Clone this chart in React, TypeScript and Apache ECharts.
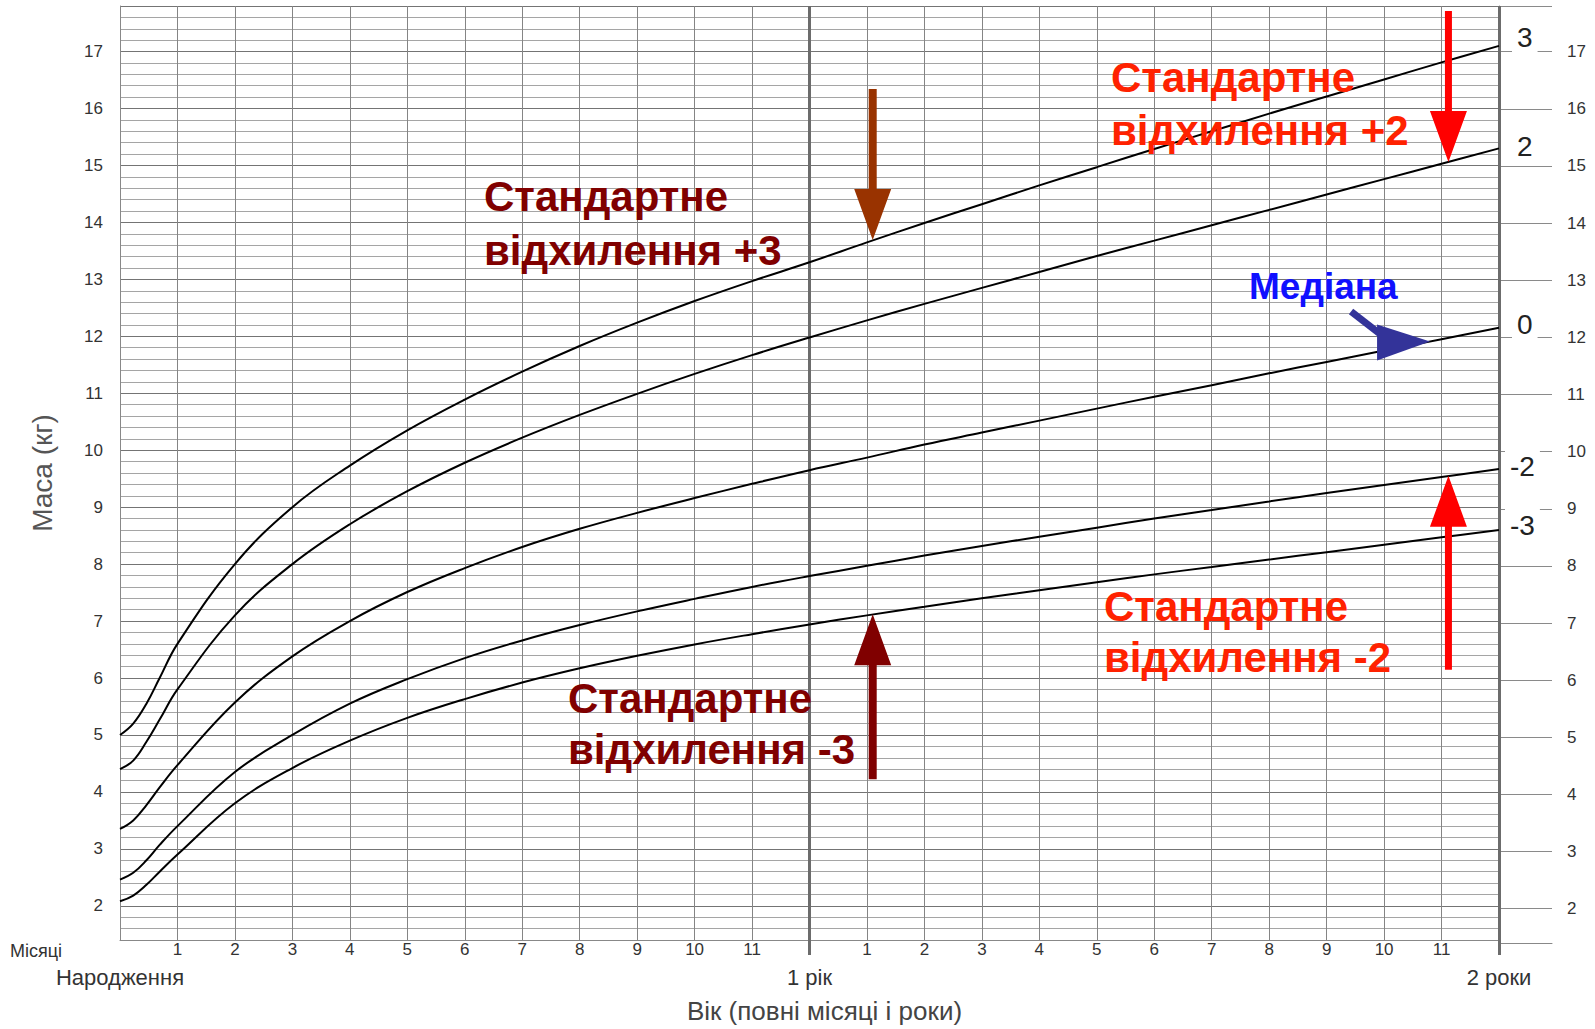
import React, { useEffect, useRef } from "react";
import * as echarts from "echarts";

const FONT = '"Liberation Sans", Arial, Helvetica, sans-serif';

// Age in months (first points: weeks 0–3 of life)
const ageMonths = [0, 0.23, 0.46, 0.69, 1, 2, 3, 4, 5, 6, 7, 8, 9, 10, 11, 12, 13, 14, 15, 16, 17, 18, 19, 20, 21, 22, 23, 24];
// Weight (kg) per standard-deviation curve
const sdMinus3 = [2.08, 2.18, 2.37, 2.6, 2.9, 3.8, 4.42, 4.9, 5.3, 5.63, 5.92, 6.17, 6.39, 6.59, 6.77, 6.94, 7.1, 7.25, 7.4, 7.54, 7.68, 7.82, 7.95, 8.08, 8.21, 8.34, 8.47, 8.6];
const sdMinus2 = [2.46, 2.58, 2.8, 3.07, 3.4, 4.35, 5.0, 5.55, 5.98, 6.35, 6.66, 6.93, 7.17, 7.39, 7.6, 7.79, 7.97, 8.15, 8.32, 8.48, 8.64, 8.8, 8.95, 9.1, 9.25, 9.39, 9.53, 9.67];
const sdMedian = [3.35, 3.5, 3.77, 4.08, 4.47, 5.57, 6.38, 7.0, 7.51, 7.93, 8.3, 8.62, 8.9, 9.16, 9.41, 9.65, 9.87, 10.1, 10.31, 10.52, 10.73, 10.94, 11.14, 11.35, 11.55, 11.75, 11.95, 12.15];
const sdPlus2 = [4.4, 4.55, 4.88, 5.27, 5.8, 7.1, 8.0, 8.7, 9.28, 9.78, 10.22, 10.62, 10.99, 11.34, 11.67, 11.98, 12.28, 12.57, 12.85, 13.13, 13.41, 13.68, 13.95, 14.22, 14.49, 14.76, 15.03, 15.3];
const sdPlus3 = [5.0, 5.2, 5.55, 6.0, 6.6, 8.0, 9.0, 9.73, 10.35, 10.89, 11.38, 11.83, 12.24, 12.62, 12.97, 13.3, 13.65, 13.99, 14.32, 14.65, 14.97, 15.29, 15.6, 15.91, 16.21, 16.51, 16.81, 17.1];
const curveNames = ["3", "2", "0", "-2", "-3"];
const curveValues = [sdPlus3, sdPlus2, sdMedian, sdMinus2, sdMinus3];

// Axis ticks / labels
const monthTickLabels = ["", "1", "2", "3", "4", "5", "6", "7", "8", "9", "10", "11", "", "1", "2", "3", "4", "5", "6", "7", "8", "9", "10", "11", ""];
const yearTickValues = [0, 12, 24];
const yearTickLabels = ["Народження", "1 рік", "2 роки"];
const yearLineValues = [12, 24];
const weightMin = 1.4;
const weightMax = 17.8;

// Annotation texts and the curve points their arrows point to: [month, kg]
const annotationTexts = ["Стандартне\nвідхилення +3", "Стандартне\nвідхилення +2", "Стандартне\nвідхилення -2", "Стандартне\nвідхилення -3", "Медіана"];
const arrowTargets = [[13.1, 13.69], [23.12, 15.06], [23.12, 9.55], [13.1, 7.12], [22.8, 11.91]];

const endLabelOffsets: Record<string, number[]> = {
  "3": [13, -8],
  "2": [13, -2],
  "0": [13, -3],
  "-2": [6, -3],
  "-3": [6, -4],
};

const isInt = (v: number) => Math.abs(v - Math.round(v)) < 1e-6;

function buildOption(): any {
  const series: any[] = curveNames.map((name, si) => ({
    name,
    type: "line",
    xAxisIndex: 0,
    yAxisIndex: 0,
    data: ageMonths.map((m, i) => [m, curveValues[si][i]]),
    symbol: "none",
    smooth: 0.4,
    lineStyle: { color: "#000", width: 2 },
    z: 5,
    silent: true,
    endLabel: {
      show: true,
      formatter: "{a}",
      color: "#222",
      fontSize: 28,
      fontFamily: FONT,
      distance: 0,
      offset: endLabelOffsets[name],
      backgroundColor: "#fff",
      padding: [3, 5],
    },
  }));
  series[0].markLine = {
    silent: true,
    symbol: ["none", "none"],
    label: { show: false },
    lineStyle: { color: "#6c6c6c", width: 3, type: "solid" },
    data: yearLineValues.map((v) => ({ xAxis: v })),
    z: 3,
  };

  return {
    animation: false,
    backgroundColor: "#fff",
    textStyle: { fontFamily: FONT },
    grid: [
      { left: 120, top: 6, width: 1379, height: 937, show: false },
      { left: 1499, top: 6, width: 53, height: 937, show: false },
    ],
    xAxis: [
      {
        type: "value",
        gridIndex: 0,
        min: 0,
        max: 24,
        interval: 1,
        axisLine: { show: true, onZero: false, lineStyle: { color: "#888", width: 1 } },
        axisTick: { show: false },
        axisLabel: {
          show: true,
          margin: 1,
          fontSize: 17,
          color: "#333",
          fontFamily: FONT,
          formatter: (v: number) => monthTickLabels[Math.round(v)] ?? "",
        },
        splitLine: { show: true, lineStyle: { color: "#858585", width: 1 } },
      },
      {
        type: "value",
        gridIndex: 0,
        min: 0,
        max: 24,
        position: "bottom",
        axisLine: { show: false, onZero: false },
        axisTick: { show: true, customValues: yearLineValues, length: 15, lineStyle: { color: "#6c6c6c", width: 3 } },
        splitLine: { show: false },
        axisLabel: {
          show: true,
          customValues: yearTickValues,
          showMinLabel: true,
          showMaxLabel: true,
          margin: 26,
          fontSize: 22,
          color: "#333",
          fontFamily: FONT,
          formatter: (v: number) => yearTickLabels[yearTickValues.indexOf(Math.round(v))] ?? "",
        },
        name: "Вік (повні місяці і роки)",
        nameLocation: "middle",
        nameGap: 58,
        nameTextStyle: { fontSize: 26, color: "#444", fontFamily: FONT, padding: [0, 0, 0, 30] },
      },
      {
        type: "value",
        gridIndex: 1,
        min: 0,
        max: 1,
        axisLine: { show: true, onZero: false, lineStyle: { color: "#888", width: 1 } },
        axisTick: { show: false },
        axisLabel: { show: false },
        splitLine: { show: false },
      },
    ],
    yAxis: [
      {
        type: "value",
        gridIndex: 0,
        min: weightMin,
        max: weightMax,
        splitNumber: 16,
        minInterval: 1,
        maxInterval: 1,
        axisLine: { show: true, lineStyle: { color: "#888", width: 1 } },
        axisTick: { show: false },
        axisLabel: {
          show: true,
          margin: 17,
          fontSize: 17,
          color: "#333",
          fontFamily: FONT,
          formatter: (v: number) => (isInt(v) ? String(Math.round(v)) : ""),
        },
        splitLine: { show: true, lineStyle: { color: "#747474", width: 1 } },
        minorTick: { show: false, splitNumber: 5 },
        minorSplitLine: { show: true, lineStyle: { color: "#a5a5a5", width: 1 } },
        name: "Маса (кг)",
        nameLocation: "middle",
        nameGap: 64,
        nameTextStyle: { fontSize: 28, color: "#555", fontFamily: FONT },
      },
      {
        type: "value",
        gridIndex: 1,
        position: "right",
        min: weightMin,
        max: weightMax,
        splitNumber: 16,
        minInterval: 1,
        maxInterval: 1,
        axisLine: { show: true, lineStyle: { color: "#888", width: 1 } },
        axisTick: { show: false },
        axisLabel: {
          show: true,
          margin: 15,
          fontSize: 17,
          color: "#333",
          fontFamily: FONT,
          formatter: (v: number) => (isInt(v) ? String(Math.round(v)) : ""),
        },
        splitLine: { show: true, lineStyle: { color: "#8a8a8a", width: 1 } },
      },
    ],
    series,
  };
}

function vArrow(tx: number, ty: number, dir: number, len: number, color: string, shaftW = 8, headW = 37, headH = 51) {
  // dir = 1: arrow points down (tail above tip); dir = -1: points up
  const hb = ty - dir * headH;
  const tail = ty - dir * len;
  return {
    type: "polygon",
    z: 100,
    silent: true,
    shape: {
      points: [
        [tx - shaftW / 2, tail],
        [tx + shaftW / 2, tail],
        [tx + shaftW / 2, hb],
        [tx + headW / 2, hb],
        [tx, ty],
        [tx - headW / 2, hb],
        [tx - shaftW / 2, hb],
      ],
    },
    style: { fill: color },
  };
}

function textEl(text: string, x: number, y: number, size: number, lh: number, color: string, bold = true) {
  return {
    type: "text",
    z: 100,
    silent: true,
    x,
    y,
    style: {
      text,
      font: `${bold ? "bold " : ""}${size}px ${FONT}`,
      fill: color,
      lineHeight: lh,
      verticalAlign: "top",
      align: "left",
    },
  };
}

export default function App() {
  const ref = useRef<HTMLDivElement>(null);
  useEffect(() => {
    document.body.style.margin = "0";
    const chart = echarts.init(ref.current!, null, { renderer: "svg" });
    chart.setOption(buildOption());
    const px = (p: number[]) => chart.convertToPixel({ xAxisIndex: 0, yAxisIndex: 0 }, p) as number[];
    const [t3, t2, tm2, tm3, tMed] = arrowTargets.map(px);
    const elements: any[] = [
      textEl(annotationTexts[0], 484, 169, 42, 54, "#800000"),
      textEl(annotationTexts[1], 1111, 51, 42, 53, "#ff2200"),
      textEl(annotationTexts[2], 1104, 581, 42, 51, "#ff2200"),
      textEl(annotationTexts[3], 568, 673, 42, 51, "#800000"),
      textEl(annotationTexts[4], 1249, 268, 37, 37, "#1010ff"),
      textEl("Місяці", 10, 942, 18, 18, "#333", false),
      vArrow(t3[0], t3[1], 1, 151, "#993300", 8),
      vArrow(t2[0], t2[1], 1, 151, "#ff0000", 7),
      vArrow(tm2[0], tm2[1], -1, 194, "#ff0000", 7),
      vArrow(tm3[0], tm3[1], -1, 165, "#800000", 8),
      {
        type: "line",
        z: 100,
        silent: true,
        shape: { x1: tMed[0] - 79, y1: tMed[1] - 30, x2: tMed[0] - 48, y2: tMed[1] - 6 },
        style: { stroke: "#333399", lineWidth: 7 },
      },
      {
        type: "polygon",
        z: 100,
        silent: true,
        shape: { points: [[tMed[0] - 53, tMed[1] - 17], [tMed[0] - 53, tMed[1] + 19], [tMed[0], tMed[1]]] },
        style: { fill: "#333399" },
      },
    ];
    chart.setOption({ graphic: elements });
    return () => chart.dispose();
  }, []);
  return <div ref={ref} style={{ width: 1595, height: 1029 }} />;
}
